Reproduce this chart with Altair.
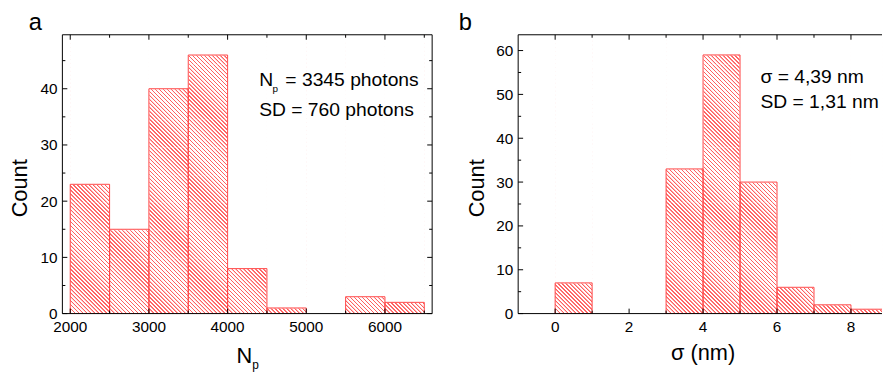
import math
import altair as alt
import pandas as pd

# ---------------- data ----------------
a_bin_start = [2000, 2500, 3000, 3500, 4000, 4500, 5000, 5500, 6000]
a_bin_end = [2500, 3000, 3500, 4000, 4500, 5000, 5500, 6000, 6500]
a_counts = [23, 15, 40, 46, 8, 1, 0, 3, 2]
a_x_major = [2000, 3000, 4000, 5000, 6000]
a_x_minor = [2500, 3500, 4500, 5500, 6500]
a_y_major = [0, 10, 20, 30, 40]
a_y_minor = [5, 15, 25, 35, 45]

b_bin_start = [0, 1, 2, 3, 4, 5, 6, 7, 8]
b_bin_end = [1, 2, 3, 4, 5, 6, 7, 8, 9]
b_counts = [7, 0, 0, 33, 59, 30, 6, 2, 1]
b_x_major = [0, 2, 4, 6, 8]
b_x_minor = [1, 3, 5, 7]
b_y_major = [0, 10, 20, 30, 40, 50, 60]
b_y_minor = [5, 15, 25, 35, 45, 55]

a_letter = "a"
b_letter = "b"
y_title = "Count"
a_xtitle = ["N", "p"]
b_xtitle = "σ (nm)"
a_note_line1 = ["N", "p", "= 3345 photons"]
a_note_line2 = "SD = 760 photons"
b_note_line1 = "σ = 4,39 nm"
b_note_line2 = "SD = 1,31 nm"

# ---------------- style / layout ----------------
FONT = "Liberation Sans"
H = 282
WA = 374
WB = 368
A_XDOM = [1900, 6600]
A_YDOM = [0, 49.6]
B_XDOM = [-1, -1 + WB / 37.4]
B_YDOM = [0, 63.6]
HATCH_COLOR = "#ff6060"
OUTLINE = "#ff4646"
HATCH_PERIOD = 2 * math.sqrt(2)
RAMP = 0.3
HOLD = 0.7
BAND = 28          # hatch tile height in px (multiple of 4 keeps stripes continuous)
BAND_TOP = 2
N_BANDS = 10
MAJ = 5
MIN = 3
LABEL_SIZE = 15.5
NOTE_SIZE = 19.5


def hatch_gradient(w, h):
    gx, gy = 1.0 / h, -1.0 / w
    s = (1.0 / h + 1.0 / w) / (gx * gx + gy * gy)
    D = (w + h) / math.sqrt(2)
    stops = [alt.GradientStop(offset=0, color="white")]
    pos = 0.3
    while pos + 2 * RAMP + HOLD < D:
        pts = [(pos, "white"), (pos + RAMP, HATCH_COLOR),
               (pos + RAMP + HOLD, HATCH_COLOR), (pos + 2 * RAMP + HOLD, "white")]
        stops += [alt.GradientStop(offset=round(p / D, 5), color=c) for p, c in pts]
        pos += HATCH_PERIOD
    stops.append(alt.GradientStop(offset=1, color="white"))
    return alt.LinearGradient(
        gradient="linear", stops=stops,
        x1=0, y1=1, x2=round(s * gx, 6), y2=round(1 + s * gy, 6),
    )


def const_layer():
    return alt.Chart(alt.Data(values=[{}]))


def text_layer(txt, x, y, size, align="left", angle=0, baseline="alphabetic"):
    return const_layer().mark_text(
        text=txt, fontSize=size, font=FONT, align=align, baseline=baseline,
        angle=angle, color="black",
    ).encode(x=alt.value(x), y=alt.value(y))


def tick_layer(values, orient, length, xs, ys, W):
    df = pd.DataFrame({"v": values})
    base = alt.Chart(df).mark_rule(color="black", strokeWidth=1)
    if orient == "bottom":
        enc = dict(x=alt.X("v:Q", scale=xs, axis=None), y=alt.value(H), y2=alt.value(H - length))
    elif orient == "top":
        enc = dict(x=alt.X("v:Q", scale=xs, axis=None), y=alt.value(0), y2=alt.value(length))
    elif orient == "left":
        enc = dict(y=alt.Y("v:Q", scale=ys, axis=None), x=alt.value(0), x2=alt.value(length))
    else:
        enc = dict(y=alt.Y("v:Q", scale=ys, axis=None), x=alt.value(W), x2=alt.value(W - length))
    return base.encode(**enc)


def label_layer(values, orient, xs, ys):
    df = pd.DataFrame({"v": values, "t": [str(v) for v in values]})
    if orient == "bottom":
        return alt.Chart(df).mark_text(
            fontSize=LABEL_SIZE, font=FONT, color="black", align="center", baseline="alphabetic"
        ).encode(x=alt.X("v:Q", scale=xs, axis=None), y=alt.value(H + 19), text="t:N")
    return alt.Chart(df).mark_text(
        fontSize=LABEL_SIZE, font=FONT, color="black", align="right", baseline="alphabetic",
        dy=5.5,
    ).encode(y=alt.Y("v:Q", scale=ys, axis=None), x=alt.value(-5), text="t:N")


def panel(starts, ends, counts, xdom, ydom, W, xmaj, xmin, ymaj, ymin,
          right_frame, texts):
    df = pd.DataFrame({"start": starts, "end": ends, "count": counts})
    df = df[df["count"] > 0]
    xs = alt.Scale(domain=xdom, nice=False, zero=False)
    ys = alt.Scale(domain=ydom, nice=False, zero=False)
    bar_w = W * (ends[0] - starts[0]) / (xdom[1] - xdom[0])
    grad = hatch_gradient(bar_w, BAND)
    layers = []
    for k in range(N_BANDS):
        top = BAND_TOP + k * BAND
        layers.append(alt.Chart(df).mark_rect(fill=grad, strokeWidth=0, clip=True).encode(
            x=alt.X("start:Q", scale=xs, axis=None), x2="end:Q",
            y=alt.value(top), y2=alt.value(top + BAND),
        ))
    layers.append(alt.Chart(df).mark_rect(fill="white", stroke="white", strokeWidth=1, clip=True).encode(
        x=alt.X("start:Q", scale=xs, axis=None), x2="end:Q",
        y=alt.Y("count:Q", scale=ys, axis=None), y2=alt.value(1),
    ))
    layers.append(alt.Chart(df).mark_rect(fillOpacity=0, stroke=OUTLINE, strokeWidth=1, clip=True).encode(
        x=alt.X("start:Q", scale=xs, axis=None), x2="end:Q",
        y=alt.Y("count:Q", scale=ys, axis=None), y2=alt.datum(0),
    ))
    layers += [
        tick_layer(xmaj, "bottom", MAJ, xs, ys, W), tick_layer(xmin, "bottom", MIN, xs, ys, W),
        tick_layer(xmaj, "top", MAJ, xs, ys, W), tick_layer(xmin, "top", MIN, xs, ys, W),
        tick_layer(ymaj, "left", MAJ, xs, ys, W), tick_layer(ymin, "left", MIN, xs, ys, W),
        label_layer(xmaj, "bottom", xs, ys), label_layer(ymaj, "left", xs, ys),
    ]
    layers.append(const_layer().mark_rule(color="black").encode(
        x=alt.value(0), x2=alt.value(W), y=alt.value(0)))
    layers.append(const_layer().mark_rule(color="black").encode(
        x=alt.value(0), x2=alt.value(W), y=alt.value(H)))
    layers.append(const_layer().mark_rule(color="black").encode(
        x=alt.value(0), y=alt.value(0), y2=alt.value(H)))
    if right_frame:
        layers += [tick_layer(ymaj, "right", MAJ, xs, ys, W), tick_layer(ymin, "right", MIN, xs, ys, W)]
        layers.append(const_layer().mark_rule(color="black").encode(
            x=alt.value(W), y=alt.value(0), y2=alt.value(H)))
    layers += texts
    return alt.layer(*layers).properties(width=W, height=H)


texts_a = [
    text_layer(a_letter, -34, -5, 24),
    text_layer(y_title, -35.3, 155.3, 22, align="center", angle=270),
    text_layer(a_xtitle[0], 176, 332, 22),
    text_layer(a_xtitle[1], 192, 338, 12),
    text_layer(a_note_line1[0], 199, 52, NOTE_SIZE),
    text_layer(a_note_line1[1], 212.5, 58, 10),
    text_layer(a_note_line1[2], 225.5, 52, NOTE_SIZE),
    text_layer(a_note_line2, 199, 82, NOTE_SIZE),
]
texts_b = [
    text_layer(b_letter, -60, -5, 24),
    text_layer(y_title, -34.7, 155.3, 22, align="center", angle=270),
    text_layer(b_xtitle, 187, 329, 22, align="center"),
    text_layer(b_note_line1, 245, 48.5, NOTE_SIZE),
    text_layer(b_note_line2, 245, 73.7, NOTE_SIZE),
]

panel_a = panel(a_bin_start, a_bin_end, a_counts, A_XDOM, A_YDOM, WA,
                a_x_major, a_x_minor, a_y_major, a_y_minor, True, texts_a)
panel_b = panel(b_bin_start, b_bin_end, b_counts, B_XDOM, B_YDOM, WB,
                b_x_major, b_x_minor, b_y_major, b_y_minor, False, texts_b)

chart = alt.hconcat(panel_a, panel_b, spacing=87, bounds="flush").properties(
    padding={"left": 1, "top": 1, "right": 0, "bottom": 0}
).configure(font=FONT).configure_view(stroke=None)

chart.save("out.html", embed_options={"renderer": "svg", "actions": False})
